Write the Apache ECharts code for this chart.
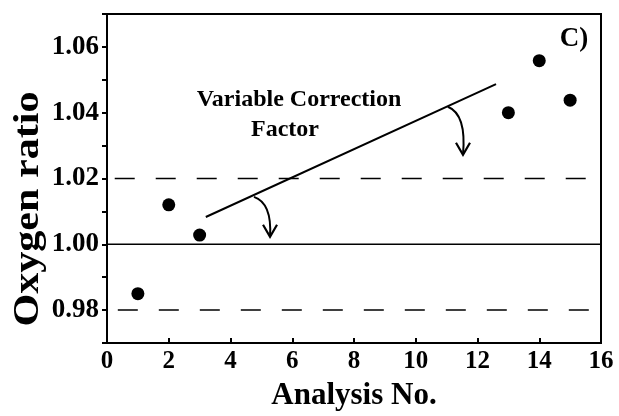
<!DOCTYPE html>
<html>
<head>
<meta charset="utf-8">
<script src="https://cdn.jsdelivr.net/npm/echarts@6/dist/echarts.min.js"></script>
<style>html,body{margin:0;padding:0;background:#fff;}#c{width:619px;height:416px;}</style>
</head>
<body>
<div id="c"></div>
<script>
// Data
var analysisNo = [1, 2, 3, 13, 14, 15];
var oxygenRatio = [0.985, 1.012, 1.0028, 1.040, 1.0558, 1.0438];
var xTicks = [0, 2, 4, 6, 8, 10, 12, 14, 16];
var yTickLabels = [0.98, 1.00, 1.02, 1.04, 1.06];
var limitUpper = 1.02, limitLower = 0.98, reference = 1.00;
var correctionLine = [[3.2, 1.0083], [12.6, 1.0487]];
// arrows: [startX, startY, controlX, controlY, tipX, tipY]
var arrows = [
  [4.76, 1.0144, 5.35, 1.0125, 5.28, 1.0023],
  [11.04, 1.0418, 11.65, 1.0395, 11.53, 1.0272]
];

var FONT = '"Liberation Serif","Times New Roman",serif';
var chart = echarts.init(document.getElementById('c'));

function pts(arr){ return arr.map(function(p){return [p[0], p[1]];}); }

chart.setOption({
  animation: false,
  backgroundColor: '#fff',
  grid: { left: 107, right: 18, top: 14, bottom: 73, show: true, borderColor: '#000', borderWidth: 2 },
  xAxis: {
    type: 'value', min: 0, max: 16, interval: 2,
    name: 'Analysis No.', nameLocation: 'middle', nameGap: 37,
    nameTextStyle: { fontFamily: FONT, fontWeight: 'bold', fontSize: 31, color: '#000' },
    axisLine: { lineStyle: { color: '#000', width: 2 } },
    axisTick: { inside: true, length: 5, lineStyle: { color: '#000', width: 2 } },
    axisLabel: { fontFamily: FONT, fontWeight: 'bold', fontSize: 25, color: '#000', margin: 6 },
    splitLine: { show: false }
  },
  yAxis: {
    type: 'value', min: 0.97, max: 1.07, interval: 0.01,
    axisLine: { lineStyle: { color: '#000', width: 2 } },
    axisTick: { inside: false, length: 5, lineStyle: { color: '#000', width: 2 } },
    axisLabel: {
      fontFamily: FONT, fontWeight: 'bold', fontSize: 27, color: '#000', margin: 8,
      formatter: function(v){
        for (var i = 0; i < yTickLabels.length; i++) {
          if (Math.abs(yTickLabels[i] - v) < 1e-6) return yTickLabels[i].toFixed(2);
        }
        return '';
      }
    },
    splitLine: { show: false }
  },
  graphic: [
    { type: 'text', x: 29, y: 209, rotation: Math.PI / 2, scaleX: 1.17,
      style: { text: 'Oxygen ratio', font: 'bold 36px ' + FONT, fill: '#000', align: 'center', verticalAlign: 'middle' } },
    { type: 'text', x: 299, y: 100, style: { text: 'Variable Correction', font: 'bold 24px ' + FONT, fill: '#000', align: 'center', verticalAlign: 'middle' } },
    { type: 'text', x: 285, y: 130, style: { text: 'Factor', font: 'bold 24px ' + FONT, fill: '#000', align: 'center', verticalAlign: 'middle' } },
    { type: 'text', x: 574, y: 39, style: { text: 'C)', font: 'bold 27px ' + FONT, fill: '#000', align: 'center', verticalAlign: 'middle' } }
  ],
  series: [
    { type: 'line', data: [[0.25, limitUpper], [16, limitUpper]], symbol: 'none', silent: true,
      lineStyle: { color: '#000', width: 1.5, type: [20, 21] } },
    { type: 'line', data: [[0.35, limitLower], [16, limitLower]], symbol: 'none', silent: true,
      lineStyle: { color: '#000', width: 1.5, type: [20, 21] } },
    { type: 'line', data: [[0, reference], [16, reference]], symbol: 'none', silent: true,
      lineStyle: { color: '#000', width: 1.5 } },
    { type: 'line', data: pts(correctionLine), symbol: 'none', silent: true,
      lineStyle: { color: '#000', width: 2 } },
    { type: 'custom', data: arrows, silent: true,
      renderItem: function(params, api){
        var s = api.coord([api.value(0), api.value(1)]);
        var c = api.coord([api.value(2), api.value(3)]);
        var t = api.coord([api.value(4), api.value(5)]);
        return { type: 'group', children: [
          { type: 'bezierCurve', shape: { x1: s[0], y1: s[1], x2: t[0], y2: t[1], cpx1: c[0], cpy1: c[1] },
            style: { stroke: '#000', lineWidth: 2, fill: null } },
          { type: 'polyline', shape: { points: [[t[0]-7, t[1]-12], [t[0], t[1]], [t[0]+7, t[1]-12]] },
            style: { stroke: '#000', lineWidth: 2.2, fill: null } }
        ]};
      }
    },
    { type: 'scatter', data: analysisNo.map(function(x, i){ return [x, oxygenRatio[i]]; }),
      symbol: 'circle', symbolSize: 13, itemStyle: { color: '#000', opacity: 1 } }
  ]
});
</script>
</body>
</html>
